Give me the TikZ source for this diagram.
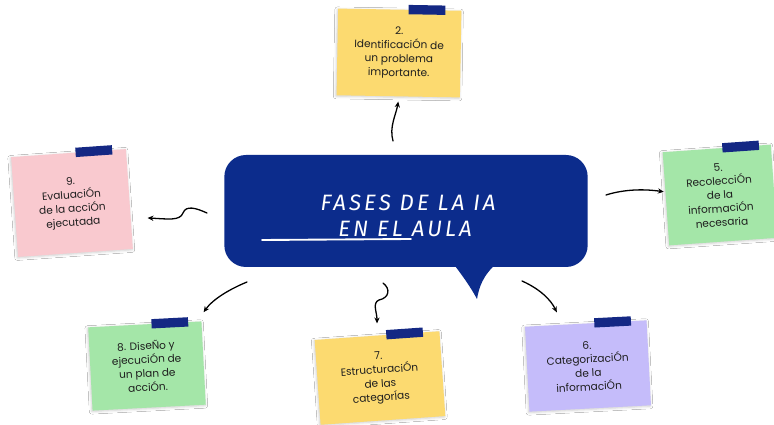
\documentclass[tikz,border=0pt]{standalone}
\usepackage{fontspec}
\setmainfont{Poppins}
\newfontfamily\handfont{Fira Sans}
\usepackage{xcolor}
\definecolor{bubble-navy}{RGB}{12,44,140}
\definecolor{tape-navy}{RGB}{20,40,132}
\definecolor{note-yellow}{RGB}{252,218,112}
\definecolor{note-pink}{RGB}{249,201,207}
\definecolor{note-green}{RGB}{164,230,168}
\definecolor{note-lilac}{RGB}{197,188,250}
\definecolor{note-text}{RGB}{30,30,30}
\usetikzlibrary{shadows.blur,calc,arrows.meta}

\begin{document}
\begin{tikzpicture}[
    x=0.3mm, y=-0.3mm,
    every node/.style={inner sep=0pt},
    sticky/.style={
        fill=#1,
        align=center,
        text=note-text,
        font=\fontsize{9}{11.8}\selectfont,
        blur shadow={shadow xshift=-0.6pt, shadow yshift=-0.8pt,
            shadow opacity=20, shadow blur steps=4}
    },
    tape/.style={fill=tape-navy, minimum width=11mm, minimum height=2.8mm},
    hand/.style={text=white,
        font=\handfont\itshape\fontsize{19}{22}\selectfont\addfontfeature{LetterSpace=14}},
    link/.style={line width=1.1pt, line cap=round, -{Stealth[length=5pt,width=4.5pt]}}
]

% Page
\fill[white] (0,0) rectangle (774,425);
\useasboundingbox (0,0) rectangle (774,425);

% Speech bubble
\node[
    fill=bubble-navy,
    rounded corners=6.5mm,
    minimum width=109mm,
    minimum height=33.6mm
] (bubble) at (406,211) {};
\fill[bubble-navy]
    (452,262) .. controls (462,275) and (470,286) .. (477,299)
    .. controls (479,288) and (482,276) .. (498,262) -- cycle;

% Title
\node[hand] (title) at (408,203) {FASES DE LA IA};
\node[hand] (subtitle) at (405,229) {EN EL AULA};
\draw[white, line width=1.6pt, line cap=round] (262,240) -- (411,239);

% Sticky notes
\node[sticky=note-yellow, minimum width=37mm, minimum height=26mm, rotate=-1]
    (ident) at (399,53) {2.\\IdentificaciÓn de\\un problema\\importante.};
\node[sticky=note-green, minimum width=32.5mm, minimum height=28mm, rotate=4]
    (recol) at (720,195) {5.\\RecolecciÓn\\de la\\informaciÓn\\necesaria};
\node[sticky=note-lilac, minimum width=36.5mm, minimum height=25.5mm, rotate=3]
    (categ) at (588,366) {6.\\CategorizaciÓn\\de la\\informaciÓn};
\node[sticky=note-yellow, minimum width=37.5mm, minimum height=25.5mm, rotate=4]
    (estruct) at (380,378) {7.\\EstructuraciÓn\\de las\\categorÍas};
\node[sticky=note-green, minimum width=34mm, minimum height=25mm, rotate=3]
    (plan) at (147,366) {8. DiseÑo y\\ejecuciÓn de\\un plan de\\acciÓn.};
\node[sticky=note-pink, minimum width=34.5mm, minimum height=30mm, rotate=4]
    (eval) at (72,203) {9.\\EvaluaciÓn\\de la acciÓn\\ejecutada};

% Tapes
\foreach \n/\a in {ident/-1, recol/4, categ/3, estruct/4, plan/3, eval/4}
    \node[tape, rotate=\a] at ($(\n.north west)!0.72!(\n.north east)$) {};

% Arrows from the bubble
\coordinate (up-start) at (393,141);
\coordinate (left-start) at (207,213);
\coordinate (right-start) at (606,195);
\coordinate (dl-start) at (247,282);
\coordinate (down-start) at (383,283);
\coordinate (dr-start) at (522,281);

\draw[link] (up-start) .. controls (389,127) and (396,115) .. ($(ident.south)+(0,5)$);
\draw[link] (left-start) .. controls (196,208) and (186,205) .. (183,213)
    .. controls (180,221) and (168,219) .. ($(eval.east)+(18,19)$);
\draw[link] (right-start) .. controls (625,189) and (645,189) .. ($(recol.west)+(-2,-7)$);
\draw[link] (dl-start) .. controls (230,289) and (213,299) .. ($(plan.north east)+(2,-9)$);
\draw[link] (down-start) .. controls (391,289) and (389,298) .. (379,300)
    .. controls (372,303) and (377,312) .. ($(estruct.north)+(0,-12)$);
\draw[link] (dr-start) .. controls (540,289) and (551,300) .. ($(categ.north)+(-29,-11)$);

\end{tikzpicture}
\end{document}
